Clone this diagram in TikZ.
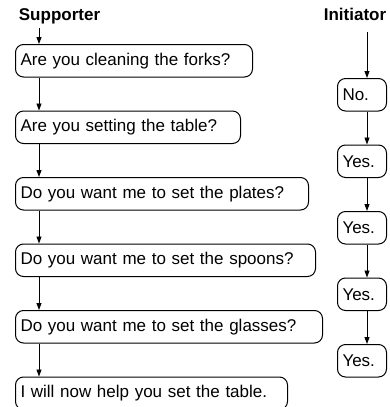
\documentclass[tikz,border=0pt]{standalone}
\usepackage{fontspec}
\setmainfont{Liberation Sans}
\usetikzlibrary{positioning}
\usetikzlibrary{arrows.meta}

\begin{document}
\begin{tikzpicture}[x=1pt, y=1pt, node distance=33pt,
    font=\fontsize{17}{20}\selectfont,
    msg/.style={draw, rounded corners=8pt, line width=1pt, minimum height=32.5pt,
      inner xsep=5pt, inner ysep=0pt, align=left, anchor=north west},
    role/.style={font=\fontsize{17}{20}\selectfont\bfseries, anchor=base},
    flow/.style={line width=0.9pt, -{Triangle[length=7pt, width=5pt]}}]
    \useasboundingbox (0,0) rectangle (390,-407);

    \node[role] (sup) at (59.5,-20) {Supporter};
    \node[role] (ini) at (355,-20) {Initiator};
    \coordinate (supstart) at (39,-28);
    \coordinate (inistart) at (367,-32);

    \node[msg, text width=227pt] (s1) at (15,-44) {Are you cleaning the forks?};
    \node[msg, text width=215pt, below=of s1.south west, anchor=north west] (s2) {Are you setting the table?};
    \node[msg, text width=283pt, below=of s2.south west, anchor=north west] (s3) {Do you want me to set the plates?};
    \node[msg, text width=290pt, below=of s3.south west, anchor=north west] (s4) {Do you want me to set the spoons?};
    \node[msg, text width=297pt, below=of s4.south west, anchor=north west] (s5) {Do you want me to set the glasses?};
    \node[msg, text width=262pt, below=of s5.south west, anchor=north west] (s6) {I will now help you set the table.};

    \node[msg, text width=39pt] (i1) at (337,-78) {No.};
    \node[msg, text width=39pt, below=of i1.south west, anchor=north west] (i2) {Yes.};
    \node[msg, text width=39pt, below=of i2.south west, anchor=north west] (i3) {Yes.};
    \node[msg, text width=39pt, below=of i3.south west, anchor=north west] (i4) {Yes.};
    \node[msg, text width=39pt, below=of i4.south west, anchor=north west] (i5) {Yes.};

    \draw[flow] (supstart) -- ([xshift=24pt]s1.north west);
    \draw[flow] ([xshift=24pt]s1.south west) -- ([xshift=24pt]s2.north west);
    \draw[flow] ([xshift=24pt]s2.south west) -- ([xshift=24pt]s3.north west);
    \draw[flow] ([xshift=24pt]s3.south west) -- ([xshift=24pt]s4.north west);
    \draw[flow] ([xshift=24pt]s4.south west) -- ([xshift=24pt]s5.north west);
    \draw[flow] ([xshift=24pt]s5.south west) -- ([xshift=24pt]s6.north west);

    \draw[flow] (inistart) -- ([xshift=30pt]i1.north west);
    \draw[flow] ([xshift=30pt]i1.south west) -- ([xshift=30pt]i2.north west);
    \draw[flow] ([xshift=30pt]i2.south west) -- ([xshift=30pt]i3.north west);
    \draw[flow] ([xshift=30pt]i3.south west) -- ([xshift=30pt]i4.north west);
    \draw[flow] ([xshift=30pt]i4.south west) -- ([xshift=30pt]i5.north west);
  \end{tikzpicture}
\end{document}
